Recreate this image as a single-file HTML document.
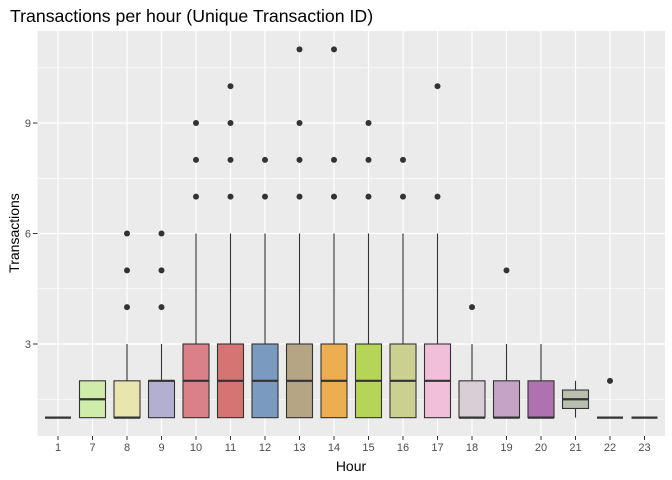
<!DOCTYPE html>
<html><head><meta charset="utf-8"><style>
html,body{margin:0;padding:0;background:#fff;}
svg{display:block;font-family:"Liberation Sans",sans-serif;}
</style></head><body>
<svg id="chart" width="672" height="480">
<text x="10" y="22" font-size="17.7" fill="#000">Transactions per hour (Unique Transaction ID)</text>
<rect x="37.5" y="31" width="627.5" height="405" fill="#ebebeb"/>
<g id="grid"></g><g id="marks"></g><g id="axes"></g>
<text x="351" y="471" font-size="14" text-anchor="middle" fill="#000">Hour</text>
<text transform="translate(19,233) rotate(-90)" font-size="14" text-anchor="middle" fill="#000">Transactions</text>
</svg>
<script>
const hours = ["1","7","8","9","10","11","12","13","14","15","16","17","18","19","20","21","22","23"];
const q1 =     [1,1,1,1,1,1,1,1,1,1,1,1,1,1,1,1.25,1,1];
const median = [1,1.5,1,2,2,2,2,2,2,2,2,2,1,1,1,1.5,1,1];
const q3 =     [1,2,2,2,3,3,3,3,3,3,3,3,2,2,2,1.75,1,1];
const whiskLo =[1,1,1,1,1,1,1,1,1,1,1,1,1,1,1,1,1,1];
const whiskHi =[1,2,3,3,6,6,6,6,6,6,6,6,3,3,3,2,1,1];
const outliers = [[],[],[4,5,6],[4,5,6],[7,8,9],[7,8,9,10],[7,8],[7,8,9,11],[7,8,11],[7,8,9],[7,8],[7,10],[4],[5],[],[],[2],[]];
const fills = ["#8dd3c7","#d0ecaa","#e8e6ae","#b3afd1","#d98088","#d67474","#7a9bbf","#b5a585","#ecae50","#b6d457","#cbd091","#f2bfdb","#d9cdd6","#c4a3c6","#b071b1","#b9c0b0","#bbbbbb","#cccccc"];
const yTicks = [3,6,9];

const NS="http://www.w3.org/2000/svg";
const px=i=>58+i*34.5;
const py=v=>344-(v-3)*36.83;
function mk(tag,attrs,parent){const e=document.createElementNS(NS,tag);for(const k in attrs)e.setAttribute(k,attrs[k]);document.getElementById(parent).appendChild(e);return e;}
[1.5,4.5,7.5,10.5].forEach(v=>{const l=mk('line',{x1:37.5,x2:665,y1:py(v),y2:py(v),stroke:'#fff','stroke-width':0.6},'grid');

});
yTicks.forEach(v=>{const l=mk('line',{x1:37.5,x2:665,y1:py(v),y2:py(v),stroke:'#fff','stroke-width':1.2},'grid');


const t=mk('line',{x1:33,x2:37.5,y1:py(v),y2:py(v),stroke:'#333','stroke-width':1},'axes');


const tx=mk('text',{x:31,y:py(v)+4,'font-size':11,'text-anchor':'end',fill:'#4d4d4d'},'axes');tx.textContent=v;

});
hours.forEach((h,i)=>{const x=px(i);
const l=mk('line',{x1:x,x2:x,y1:31,y2:436,stroke:'#fff','stroke-width':1.2},'grid');


const t=mk('line',{x1:x,x2:x,y1:436,y2:440,stroke:'#333','stroke-width':1},'axes');


const tx=mk('text',{x:x,y:451,'font-size':11,'text-anchor':'middle',fill:'#4d4d4d'},'axes');tx.textContent=h;


const hw=13;
const w=mk('line',{x1:x,x2:x,y1:py(whiskHi[i]),y2:py(q3[i]),stroke:'#333','stroke-width':1.1},'marks');


const w2=mk('line',{x1:x,x2:x,y1:py(q1[i]),y2:py(whiskLo[i]),stroke:'#333','stroke-width':1.1},'marks');


const b=mk('rect',{x:x-hw,y:py(q3[i]),width:hw*2,height:Math.max(0,py(q1[i])-py(q3[i])),fill:fills[i],stroke:'#333','stroke-width':1.1},'marks');


const m=mk('line',{x1:x-hw,x2:x+hw,y1:py(median[i]),y2:py(median[i]),stroke:'#333','stroke-width':2.2},'marks');


outliers[i].forEach(v=>{const c=mk('circle',{cx:x,cy:py(v),r:3,fill:'#333'},'marks');

});
});
</script>
</body></html>
